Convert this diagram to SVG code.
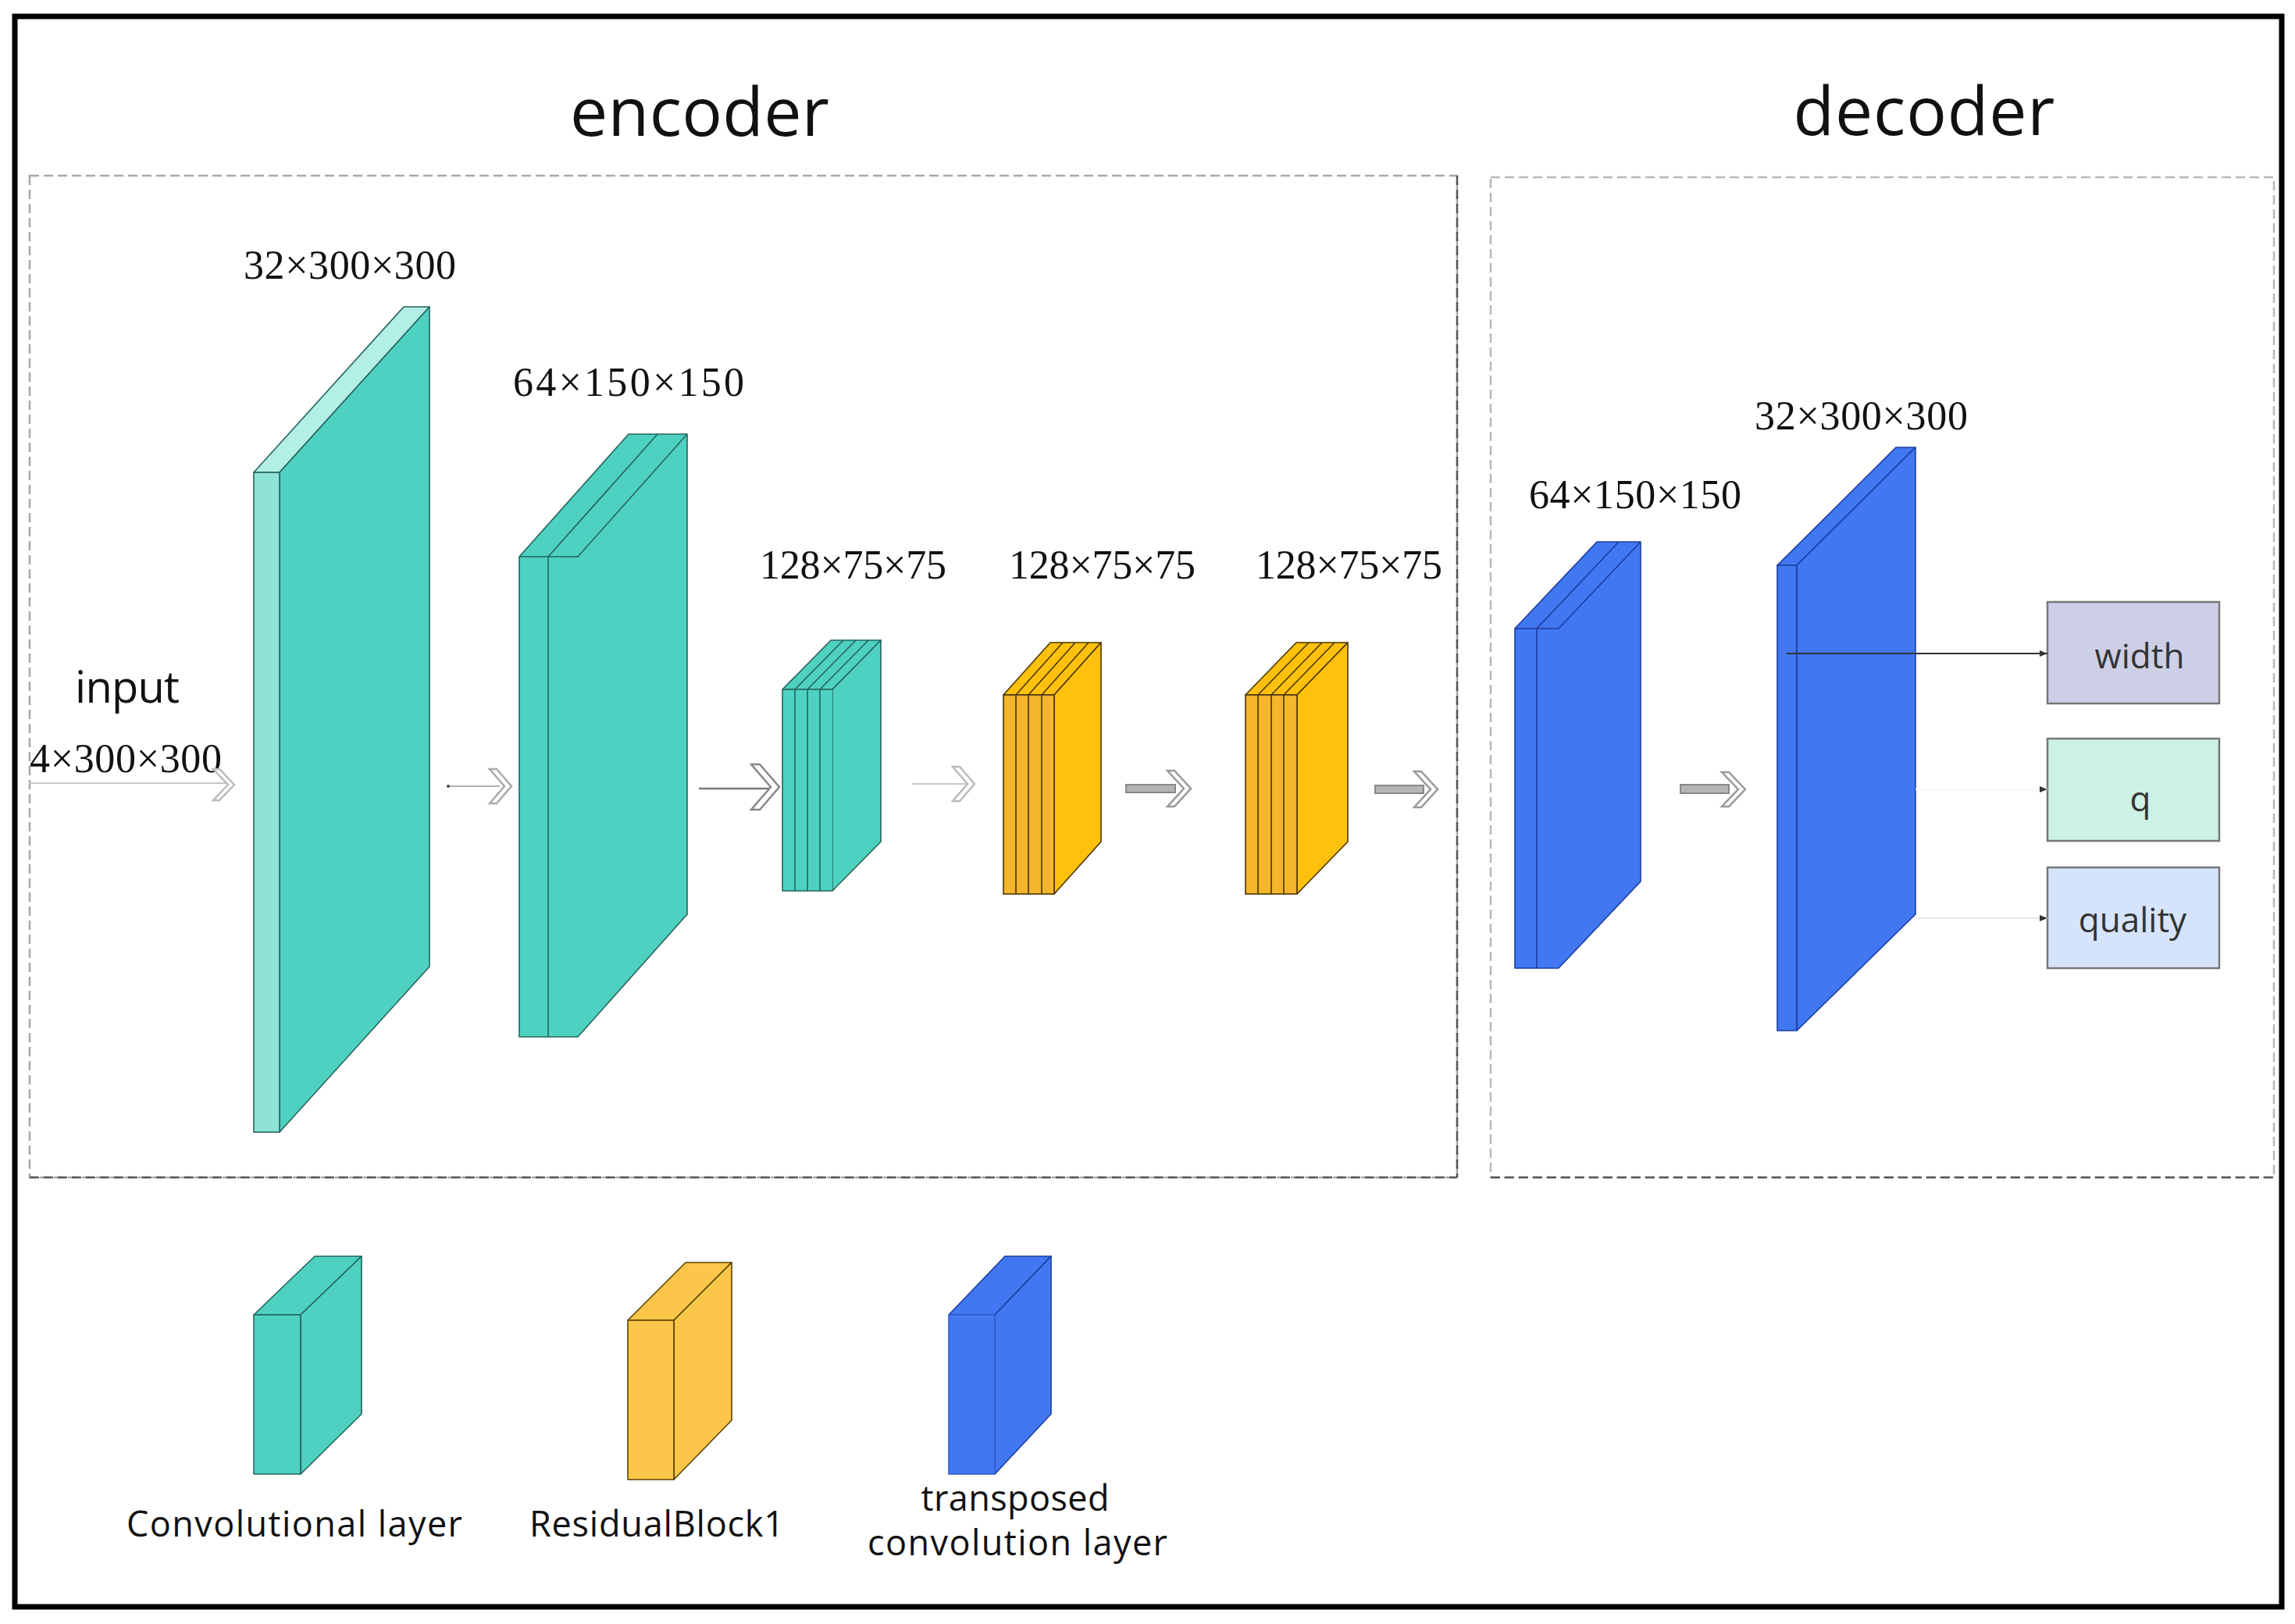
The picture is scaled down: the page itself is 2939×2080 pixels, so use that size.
<svg xmlns="http://www.w3.org/2000/svg" width="2939" height="2080" viewBox="0 0 2939 2080">
<style>
.title{font-family:"Open Sans","Noto Sans",sans-serif;font-size:86px;fill:#111;text-anchor:middle}
.dim{font-family:"Liberation Serif","Times New Roman",serif;font-size:52px;fill:#111}
.lab{font-family:"Open Sans","Noto Sans",sans-serif;font-size:45px;fill:#111;text-anchor:middle}
.out{font-family:"Open Sans","Noto Sans",sans-serif;font-size:44px;fill:#333;text-anchor:middle}
.teal{fill:#4ED1C1;stroke:#24645c;stroke-width:1.6;stroke-linejoin:round}
.tealf{fill:#8FE3D6;stroke:#24645c;stroke-width:1.6}
.tealt{fill:#B4EFE6;stroke:#24645c;stroke-width:1.6;stroke-linejoin:round}
.yel{fill:#FFC10D;stroke:#4a3500;stroke-width:1.6;stroke-linejoin:round}
.yelf{fill:#F5B52C;stroke:#4a3500;stroke-width:1.6}
.yell{fill:#FCC64A;stroke:#5a4200;stroke-width:1.6;stroke-linejoin:round}
.blue{fill:#4178F2;stroke:#1b3c9e;stroke-width:1.6;stroke-linejoin:round}
.tl{stroke:#24645c;stroke-width:1.6;fill:none;stroke-linejoin:round}
.yl{stroke:#4a3500;stroke-width:1.6;fill:none}
.bl{stroke:#1b3c9e;stroke-width:1.6;fill:none;stroke-linejoin:round}
.chev{fill:#fff;stroke:#999;stroke-width:2.5;stroke-linejoin:miter}
.bar{fill:#b5b5b5;stroke:#888;stroke-width:2}
.box{stroke:#777;stroke-width:2.5}
</style>
<defs>
<marker id="ah2" viewBox="0 0 10 10" refX="10" refY="5" markerWidth="10" markerHeight="10" orient="auto" markerUnits="userSpaceOnUse">
<path d="M0,1 L10,5 L0,9 z" fill="#333"/>
</marker>
</defs>
<rect x="0" y="0" width="2939" height="2080" fill="#fff"/>
<rect x="19" y="21" width="2903" height="2037" fill="none" stroke="#000" stroke-width="7"/>

<g id="frames">
<rect x="38" y="225" width="1828" height="1283" fill="none" stroke="#a8a8a8" stroke-width="2.5" stroke-dasharray="12 6"/>
<rect x="1909" y="227" width="1003" height="1281" fill="none" stroke="#b8b8b8" stroke-width="2.5" stroke-dasharray="12 6"/>
<line x1="1866" y1="225" x2="1866" y2="1508" stroke="#555" stroke-width="2.5" stroke-dasharray="12 6"/>
<line x1="38" y1="1508" x2="1866" y2="1508" stroke="#555" stroke-width="2.5" stroke-dasharray="12 6"/>
<line x1="1909" y1="1508" x2="2912" y2="1508" stroke="#555" stroke-width="2.5" stroke-dasharray="12 6"/>
<text class="title" x="896" y="174" textLength="332">encoder</text>
<text class="title" x="2464" y="173" textLength="335">decoder</text>
</g>

<g id="input">
<text class="lab" x="163" y="900" style="font-size:56px" textLength="134">input</text>
<text class="dim" x="38" y="989" textLength="246">4×300×300</text>
</g>

<g id="enc1">
<polygon class="tealt" points="325,605 517,393 550,393 358,605"/>
<polygon class="teal" points="358,605 550,393 550,1238 358,1450"/>
<rect class="tealf" x="325" y="605" width="33" height="845"/>
<text class="dim" x="312" y="357" textLength="272">32×300×300</text>
</g>

<g id="enc2">
<polygon points="665,713 805,556 880,556 740,713" fill="#4ED1C1"/>
<polygon points="740,713 880,556 880,1171 740,1328" fill="#4ED1C1"/>
<rect x="665" y="713" width="75" height="615" fill="#4ED1C1"/>
<path class="tl" d="M740,1328 H665 V713 L805,556 H880 V1171 L740,1328 M665,713 H740 L880,556 M702,713 V1328 M702,713 L842,556"/>
<text class="dim" x="657" y="507" textLength="296">64×150×150</text>
</g>

<g id="enc3">
<polygon class="teal" points="1002,883 1064,820 1128,820 1066,883"/>
<polygon class="teal" points="1066,883 1128,820 1128,1078 1066,1141"/>
<rect x="1002" y="883" width="64" height="258" fill="#4ED1C1"/>
<path class="tl" d="M1002,883 V1141 H1066 M1002,883 H1066 M1018,883 V1141 M1034,883 V1141 M1050,883 V1141 M1018,883 L1080,820 M1034,883 L1096,820 M1050,883 L1112,820"/>
<text class="dim" x="973" y="741" textLength="239">128×75×75</text>
</g>

<g id="res1">
<polygon class="yel" points="1285,890 1345,823 1410,823 1350,890"/>
<polygon class="yel" points="1350,890 1410,823 1410,1078 1350,1145"/>
<rect class="yelf" x="1285" y="890" width="65" height="255"/>
<path class="yl" d="M1301,890 V1145 M1317,890 V1145 M1334,890 V1145 M1301,890 L1361,823 M1317,890 L1377,823 M1334,890 L1394,823"/>
<text class="dim" x="1292" y="741" textLength="239">128×75×75</text>
</g>

<g id="res2">
<polygon class="yel" points="1595,890 1660,823 1726,823 1661,890"/>
<polygon class="yel" points="1661,890 1726,823 1726,1078 1661,1145"/>
<rect class="yelf" x="1595" y="890" width="66" height="255"/>
<path class="yl" d="M1611,890 V1145 M1628,890 V1145 M1644,890 V1145 M1611,890 L1676,823 M1628,890 L1693,823 M1644,890 L1709,823"/>
<text class="dim" x="1608" y="741" textLength="239">128×75×75</text>
</g>

<g id="dec1">
<polygon points="1940,805 2045,694 2101,694 1996,805" fill="#4178F2"/>
<polygon points="1996,805 2101,694 2101,1129 1996,1240" fill="#4178F2"/>
<rect x="1940" y="805" width="56" height="435" fill="#4178F2"/>
<path class="bl" d="M1996,1240 H1940 V805 L2045,694 H2101 V1129 L1996,1240 M1940,805 H1996 L2101,694 M1968,805 V1240 M1968,805 L2073,694"/>
<text class="dim" x="1958" y="651" textLength="272">64×150×150</text>
</g>

<g id="dec2">
<polygon class="blue" points="2276,724 2428,573 2453,573 2301,724"/>
<polygon class="blue" points="2301,724 2453,573 2453,1171 2301,1320"/>
<rect class="blue" x="2276" y="724" width="25" height="596"/>
<text class="dim" x="2247" y="550" textLength="273">32×300×300</text>
</g>

<g id="out-width">
<rect class="box" x="2622" y="771" width="220" height="130" fill="#CDCFE7"/>
<text class="out" x="2740" y="856">width</text>
</g>
<g id="out-q">
<rect class="box" x="2622" y="946" width="220" height="131" fill="#CCF1E5"/>
<text class="out" x="2741" y="1039">q</text>
</g>
<g id="out-quality">
<rect class="box" x="2622" y="1111" width="220" height="129" fill="#D6E4FB"/>
<text class="out" x="2731" y="1194">quality</text>
</g>

<g id="connectors">
<line x1="38" y1="1003" x2="292" y2="1003" stroke="#c8c8c8" stroke-width="2"/>
<polygon class="chev" style="stroke:#bbb" points="273,985 281,985 300,1005 281,1025 273,1025 292,1005"/>
<line x1="573" y1="1007" x2="640" y2="1007" stroke="#b0b0b0" stroke-width="2"/>
<circle cx="574" cy="1007" r="2" fill="#444"/>
<polygon class="chev" style="stroke:#aaa" points="627,985 636,985 655,1007 636,1029 627,1029 646,1007"/>
<line x1="895" y1="1010" x2="990" y2="1010" stroke="#777" stroke-width="2.5"/>
<polygon class="chev" style="stroke:#888" points="962,979 973,979 998,1008 973,1037 962,1037 987,1008"/>
<line x1="1168" y1="1004" x2="1240" y2="1004" stroke="#c8c8c8" stroke-width="2"/>
<polygon class="chev" style="stroke:#bbb" points="1220,982 1229,982 1248,1004 1229,1026 1220,1026 1239,1004"/>
<rect class="bar" x="1442" y="1005" width="63" height="10"/>
<polygon class="chev" points="1495,987 1504,987 1525,1010 1504,1033 1495,1033 1516,1010"/>
<rect class="bar" x="1761" y="1006" width="62" height="10"/>
<polygon class="chev" points="1811,988 1820,988 1841,1011 1820,1034 1811,1034 1832,1011"/>
<rect class="bar" x="2152" y="1005" width="62" height="11"/>
<polygon class="chev" points="2205,989 2214,989 2235,1011 2214,1033 2205,1033 2226,1011"/>
<line x1="2288" y1="837" x2="2622" y2="837" stroke="#333" stroke-width="2" marker-end="url(#ah2)"/>
<line x1="2453" y1="1011" x2="2622" y2="1011" stroke="#f8f8f8" stroke-width="2" marker-end="url(#ah2)"/>
<line x1="2454" y1="1176" x2="2622" y2="1176" stroke="#e8e8e8" stroke-width="2" marker-end="url(#ah2)"/>
</g>

<g id="legend-conv">
<polygon class="teal" points="325,1684 403,1609 463,1609 385,1684"/>
<polygon class="teal" points="385,1684 463,1609 463,1811 385,1888"/>
<rect class="teal" x="325" y="1684" width="60" height="204"/>
<text class="lab" x="377" y="1968" textLength="430">Convolutional layer</text>
</g>
<g id="legend-res">
<polygon class="yell" points="804,1691 878,1617 937,1617 863,1691"/>
<polygon class="yell" points="863,1691 937,1617 937,1819 863,1895"/>
<rect class="yell" x="804" y="1691" width="59" height="204"/>
<text class="lab" x="841" y="1968" textLength="326">ResidualBlock1</text>
</g>
<g id="legend-trans">
<polygon class="blue" points="1215,1684 1287,1609 1346,1609 1274,1684"/>
<polygon class="blue" points="1274,1684 1346,1609 1346,1811 1274,1888"/>
<rect x="1215" y="1684" width="59" height="204" fill="#4178F2" stroke="#3360c8" stroke-width="1.6"/>
<text class="lab" x="1300" y="1935" textLength="241">transposed</text>
<text class="lab" x="1303" y="1992" textLength="384">convolution layer</text>
</g>
</svg>
